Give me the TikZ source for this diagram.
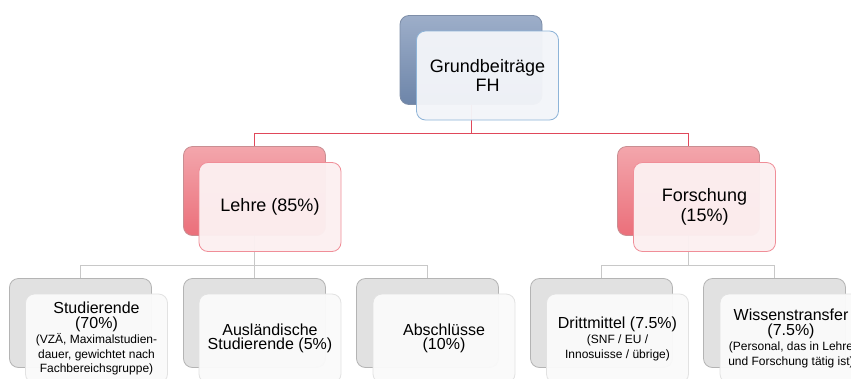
\documentclass[tikz,border=0pt]{standalone}
\usepackage{fontspec}
\setmainfont{Liberation Sans}
\definecolor{bluetop}{HTML}{9DAEC9}
\definecolor{bluebot}{HTML}{6D85A9}
\definecolor{blueback}{HTML}{7E8EA8}
\definecolor{bluefill}{HTML}{F3F5F9}
\definecolor{blueline}{HTML}{8EB4D8}
\definecolor{redtop}{HTML}{F3A6AC}
\definecolor{redbot}{HTML}{EB6F7A}
\definecolor{redback}{HTML}{C98E92}
\definecolor{redfill}{HTML}{FCF0F1}
\definecolor{redborder}{HTML}{F08E98}
\definecolor{grayfill}{HTML}{E1E1E1}
\definecolor{grayback}{HTML}{B4B4B4}
\definecolor{grayfront}{HTML}{FAFAFA}
\definecolor{grayborder}{HTML}{E2E2E2}
\definecolor{redconn}{HTML}{E0485A}
\definecolor{grayconn}{HTML}{C8C8C8}
\tikzset{
  box/.style={rectangle, rounded corners=9pt, minimum width=142pt, minimum height=89pt, inner sep=2pt, align=center, line width=0.8pt},
  blueback/.style={box, draw=blueback, top color=bluetop, bottom color=bluebot},
  bluefront/.style={box, draw=blueline, fill=bluefill, fill opacity=0.96, text opacity=1, font=\fontsize{18}{19.5}\selectfont},
  redback/.style={box, draw=redback, top color=redtop, bottom color=redbot},
  redfront/.style={box, draw=redborder, fill=redfill, fill opacity=0.96, text opacity=1, font=\fontsize{18}{19.5}\selectfont},
  grayback/.style={box, draw=grayback, fill=grayfill},
  grayfront/.style={box, draw=grayborder, fill=grayfront, fill opacity=0.96, text opacity=1, font=\fontsize{16}{14.5}\selectfont},
  redlink/.style={draw=redconn, line width=1pt},
  graylink/.style={draw=grayconn, line width=1pt}
}
\newcommand{\smalltxt}{\fontsize{12}{12.5}\selectfont}
\begin{document}
\begin{tikzpicture}[x=1pt,y=-1pt]
\useasboundingbox (0,0) rectangle (851,378);
\fill[white] (0,0) rectangle (851,378);
\clip (0,0) rectangle (851,378);
\coordinate (bus1) at (0,133);
\coordinate (bus2) at (0,265);
% back boxes
\node[blueback] (gb) at (471,60) {};
\node[redback] (lb) at (254.5,191) {};
\node[redback] (fb) at (688.5,191) {};
\node[grayback] (s1b) at (80.5,323) {};
\node[grayback] (s2b) at (254.5,323) {};
\node[grayback] (s3b) at (427.5,323) {};
\node[grayback] (s4b) at (601.5,323) {};
\node[grayback] (s5b) at (774.5,323) {};
% connectors
\draw[redlink] (gb.south) -- (gb.south |- bus1) -| (lb.north);
\draw[redlink] (gb.south |- bus1) -| (fb.north);
\draw[graylink] (lb.south) -- (lb.south |- bus2) -| (s1b.north);
\draw[graylink] (lb.south |- bus2) -| (s3b.north);
\draw[graylink] (lb.south) -- (s2b.north);
\draw[graylink] (fb.south) -- (fb.south |- bus2) -| (s4b.north);
\draw[graylink] (fb.south |- bus2) -| (s5b.north);
% front boxes
\node[bluefront] (gf) at (487.5,75.5) {Grundbeiträge\\FH};
\node[redfront] (lf) at (270,207) {Lehre (85\%)};
\node[redfront] (ff) at (704.5,207) {Forschung\\(15\%)};
\node[grayfront] (s1f) at (96.5,338.5) {Studierende\\(70\%)\\[1pt]{\smalltxt (VZÄ, Maximalstudien-}\\{\smalltxt dauer, gewichtet nach}\\{\smalltxt Fachbereichsgruppe)}};
\node[grayfront] (s2f) at (270,338.5) {Ausländische\\Studierende (5\%)};
\node[grayfront] (s3f) at (444,338.5) {Abschlüsse\\(10\%)};
\node[grayfront] (s4f) at (617.5,338.5) {Drittmittel (7.5\%)\\[1pt]{\smalltxt (SNF / EU /}\\{\smalltxt Innosuisse / übrige)}};
\node[grayfront] (s5f) at (791,338.5) {Wissenstransfer\\(7.5\%)\\[1pt]{\smalltxt (Personal, das in Lehre}\\{\smalltxt und Forschung tätig ist)}};
\end{tikzpicture}
\end{document}
